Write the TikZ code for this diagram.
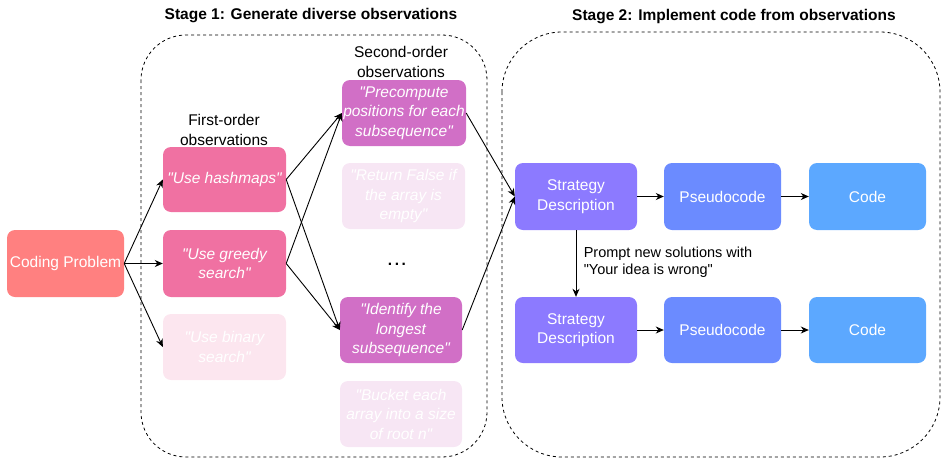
\documentclass[tikz,border=0pt]{standalone}
\usepackage{fontspec}
\setmainfont{Liberation Sans}[Ligatures=TeXOff]
\usetikzlibrary{arrows.meta}
\definecolor{cprob}{HTML}{FF8080}
\definecolor{firstc}{HTML}{F071A2}
\definecolor{firstf}{HTML}{FCE6EF}
\definecolor{secc}{HTML}{D16FC6}
\definecolor{secf}{HTML}{F7E6F4}
\definecolor{stratc}{HTML}{8C7AFF}
\definecolor{pseudoc}{HTML}{6B8BFF}
\definecolor{codec}{HTML}{5CA8FF}
\tikzset{
  box/.style={rounded corners=8pt, text=white, align=center, inner sep=1pt,
    font=\fontsize{15.5}{19.5}\selectfont},
  obs/.style={box, font=\fontsize{15.5}{19.5}\selectfont\itshape},
  container/.style={draw=black, line width=0.8pt, dash pattern=on 3pt off 3pt},
  arr/.style={draw=black, line width=0.9pt, -{Stealth[length=8pt,width=7pt,inset=2.5pt]}},
  lbl/.style={align=center, font=\fontsize{15.5}{19.5}\selectfont},
  ttl/.style={font=\fontsize{15.5}{18}\selectfont\bfseries}
}
\begin{document}
\begin{tikzpicture}[x=1pt,y=-1pt]
\useasboundingbox (0,0) rectangle (941,458);
% containers
\draw[container, rounded corners=45pt] (141,35) rectangle (487,457);
\draw[container, rounded corners=60pt] (502,32) rectangle (940,457);
\node[ttl] (t1) at (311,16) {Stage 1: Generate diverse observations};
\node[ttl] (t2) at (734,17) {Stage 2: Implement code from observations};
% labels
\node[lbl] (l1) at (224,130) {First-order\\observations};
\node[lbl] (l2) at (401,62) {Second-order\\observations};
% coding problem
\node[box, fill=cprob, minimum width=117pt, minimum height=67pt] (cp) at (65.5,263.5) {Coding Problem};
% first order
\node[obs, fill=firstc, minimum width=123pt, minimum height=65pt] (hm) at (224.5,179.5) {"Use hashmaps"};
\node[obs, fill=firstc, minimum width=123pt, minimum height=67pt] (gs) at (224.5,263.5) {"Use greedy\\search"};
\node[obs, fill=firstf, minimum width=123pt, minimum height=66pt] (bs) at (224.5,347) {"Use binary\\search"};
% second order
\node[obs, fill=secc, minimum width=124pt, minimum height=66pt] (pc) at (404,113) {"Precompute\\positions for each\\subsequence"};
\node[obs, fill=secf, minimum width=123pt, minimum height=66pt] (rf) at (403.5,196) {"Return False if\\the array is\\empty"};
\node[lbl, font=\fontsize{15.5}{19.5}\selectfont\bfseries] (dots) at (397,264) {.\,.\,.};
\node[obs, fill=secc, minimum width=122pt, minimum height=66pt] (id) at (401,330) {"Identify the\\longest\\subsequence"};
\node[obs, fill=secf, minimum width=122pt, minimum height=66pt] (bk) at (401,414) {"Bucket each\\array into a size\\of root n"};
% stage 2
\node[box, fill=stratc, minimum width=122pt, minimum height=67pt] (s1) at (576,196.5) {Strategy\\Description};
\node[box, fill=pseudoc, minimum width=117pt, minimum height=67pt] (p1) at (722.5,196.5) {Pseudocode};
\node[box, fill=codec, minimum width=117pt, minimum height=67pt] (c1) at (867.5,196.5) {Code};
\node[box, fill=stratc, minimum width=122pt, minimum height=66pt] (s2) at (576,330) {Strategy\\Description};
\node[box, fill=pseudoc, minimum width=117pt, minimum height=66pt] (p2) at (722.5,330) {Pseudocode};
\node[box, fill=codec, minimum width=117pt, minimum height=66pt] (c2) at (867.5,330) {Code};
% arrows
\draw[arr] (cp.east) -- (hm.west);
\draw[arr] (cp.east) -- (gs.west);
\draw[arr] (cp.east) -- (bs.west);
\draw[arr] (hm.east) -- (pc.west);
\draw[arr] (hm.east) -- (id.west);
\draw[arr] (gs.east) -- (pc.west);
\draw[arr] (gs.east) -- (id.west);
\draw[arr] (pc.east) -- (s1.west);
\draw[arr] (id.east) -- (s1.west);
\draw[arr] (s1) -- (p1);
\draw[arr] (p1) -- (c1);
\draw[arr] (s2) -- (p2);
\draw[arr] (p2) -- (c2);
\draw[arr] (s1.south) -- node[right, align=left, xshift=4pt, yshift=1pt, font=\fontsize{14.5}{17}\selectfont] {Prompt new solutions with\\"Your idea is wrong"} (s2.north);
\end{tikzpicture}
\end{document}
